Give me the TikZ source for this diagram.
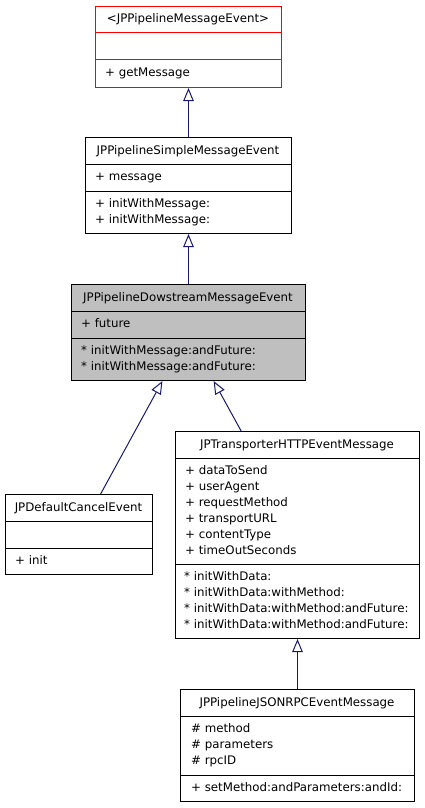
\documentclass[tikz,border=0pt]{standalone}
\usepackage{fontspec}
\setmainfont{DejaVu Sans}
\usetikzlibrary{arrows.meta,calc}
\definecolor{edgeblue}{HTML}{191970}
\definecolor{basegray}{HTML}{BFBFBF}
\tikzset{
  cls/.style={draw=black, line width=1pt, inner sep=0pt, anchor=north west},
  ttl/.style={anchor=base, inner sep=0pt, font=\fontsize{11.8}{16}\selectfont},
  mbr/.style={anchor=base west, inner sep=0pt, font=\fontsize{11.8}{16}\selectfont},
  inherit/.style={draw=edgeblue, line width=1pt, -{Triangle[open, length=13pt, width=10.5pt]}},
}
\begin{document}
\begin{tikzpicture}[x=1pt, y=-1pt]
  \useasboundingbox (0,0) rectangle (424,808);
  % protocol at the top (red outline)
  \node[cls, draw=red, minimum width=186pt, minimum height=81pt] (msgevent) at (95,6) {};
  \draw[red, line width=1pt] (95,33) -- (281,33);
  \draw[red, line width=1pt] (95,60) -- (281,60);
  \node[ttl] (msgevent-t) at (188,23) {<JPPipelineMessageEvent>};
  \node[mbr] (msgevent-m0) at (105,76) {+ getMessage};
  % simple message event
  \node[cls, minimum width=206pt, minimum height=96pt] (simple) at (85,137) {};
  \draw[line width=1pt] (85,164) -- (291,164);
  \draw[line width=1pt] (85,191) -- (291,191);
  \node[ttl] (simple-t) at (188,154) {JPPipelineSimpleMessageEvent};
  \node[mbr] (simple-a0) at (95,180) {+ message};
  \foreach \txt [count=\i from 0] in {+ initWithMessage:, + initWithMessage:}
    \node[mbr] (simple-m\i) at (95,207+16*\i) {\txt};
  % downstream event (gray, the class of this diagram)
  \node[cls, fill=basegray, minimum width=234pt, minimum height=96pt] (dstream) at (71,284) {};
  \draw[line width=1pt] (71,311) -- (305,311);
  \draw[line width=1pt] (71,338) -- (305,338);
  \node[ttl] (dstream-t) at (188,301) {JPPipelineDowstreamMessageEvent};
  \node[mbr] (dstream-a0) at (81,327) {+ future};
  \foreach \txt [count=\i from 0] in {* initWithMessage:andFuture:, * initWithMessage:andFuture:}
    \node[mbr] (dstream-m\i) at (81,354+16*\i) {\txt};
  % cancel event
  \node[cls, minimum width=147pt, minimum height=80pt] (cancel) at (5,494) {};
  \draw[line width=1pt] (5,521) -- (152,521);
  \draw[line width=1pt] (5,548) -- (152,548);
  \node[ttl] (cancel-t) at (78.5,511) {JPDefaultCancelEvent};
  \node[mbr] (cancel-m0) at (15,564) {+ init};
  % HTTP transporter message
  \node[cls, minimum width=244pt, minimum height=207pt] (http) at (175,431) {};
  \draw[line width=1pt] (175,458) -- (419,458);
  \draw[line width=1pt] (175,564) -- (419,564);
  \node[ttl] (http-t) at (297,448) {JPTransporterHTTPEventMessage};
  \foreach \txt [count=\i from 0] in {+ dataToSend, + userAgent, + requestMethod,
      + transportURL, + contentType, + timeOutSeconds}
    \node[mbr] (http-a\i) at (185,474+16*\i) {\txt};
  \foreach \txt [count=\i from 0] in {* initWithData:, * initWithData:withMethod:,
      * initWithData:withMethod:andFuture:, * initWithData:withMethod:andFuture:}
    \node[mbr] (http-m\i) at (184,580+16*\i) {\txt};
  % JSON-RPC message
  \node[cls, minimum width=234pt, minimum height=112pt] (jsonrpc) at (180,689) {};
  \draw[line width=1pt] (180,716) -- (414,716);
  \draw[line width=1pt] (180,775) -- (414,775);
  \node[ttl] (jsonrpc-t) at (297,706) {JPPipelineJSONRPCEventMessage};
  \foreach \txt [count=\i from 0] in {\# method, \# parameters, \# rpcID}
    \node[mbr] (jsonrpc-a\i) at (191,732+16*\i) {\txt};
  \node[mbr] (jsonrpc-m0) at (191,791) {+ setMethod:andParameters:andId:};
  % inheritance arrows
  \draw[inherit] (simple.north) -- (msgevent.south);
  \draw[inherit] (dstream.north) -- (simple.south);
  \draw[inherit] ($(cancel.north west)!0.646!(cancel.north east)$) -- ($(dstream.south west)!0.389!(dstream.south east)$);
  \draw[inherit] ($(http.north west)!0.27!(http.north east)$) -- ($(dstream.south west)!0.607!(dstream.south east)$);
  \draw[inherit] (jsonrpc.north) -- (http.south);
\end{tikzpicture}
\end{document}
